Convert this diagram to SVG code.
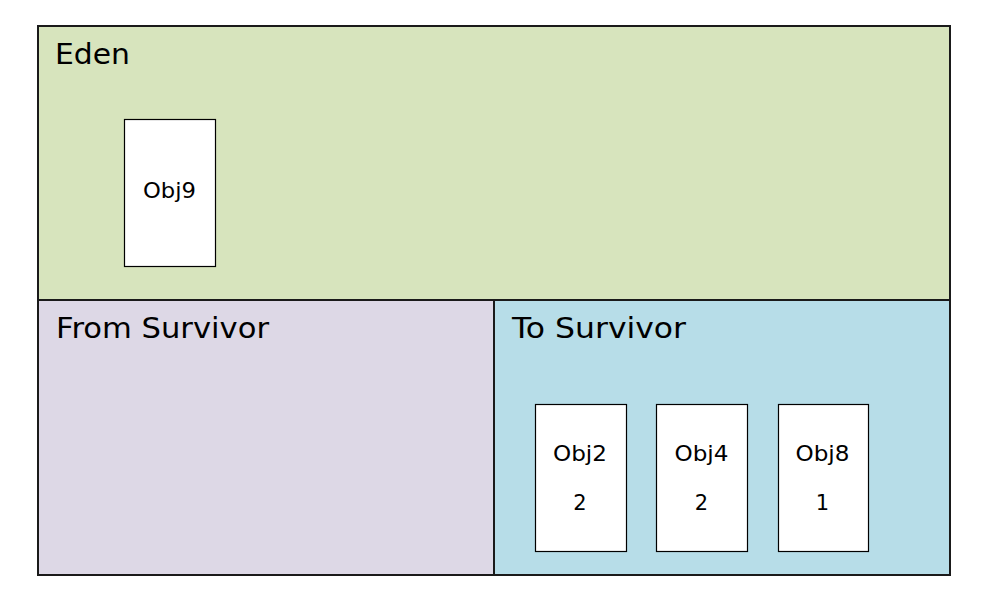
<svg xmlns="http://www.w3.org/2000/svg" width="981" height="589" viewBox="0 0 981 589">
<style>
.region{stroke:#1a1a1a;stroke-width:2}
.obj{fill:#ffffff;stroke:#000000;stroke-width:1.2}
.title{font-family:"DejaVu Sans","Noto Sans",sans-serif;font-size:28px;fill:#000}
.lbl{font-family:"DejaVu Sans","Noto Sans",sans-serif;font-size:21px;fill:#000;text-anchor:middle}
</style>
<rect width="981" height="589" fill="#ffffff"/>
<g id="eden">
<rect class="region" x="38" y="26" width="912" height="274" fill="#D7E4BD"/>
<text class="title" x="55" y="64" textLength="75" lengthAdjust="spacingAndGlyphs">Eden</text>
</g>
<g id="from-survivor">
<rect class="region" x="38" y="300" width="456" height="275" fill="#DDD8E6"/>
<text class="title" x="56" y="338" textLength="213" lengthAdjust="spacingAndGlyphs">From Survivor</text>
</g>
<g id="to-survivor">
<rect class="region" x="494" y="300" width="456" height="275" fill="#B7DDE8"/>
<text class="title" x="512" y="338" textLength="174" lengthAdjust="spacingAndGlyphs">To Survivor</text>
</g>
<g id="obj9">
<rect class="obj" x="124.5" y="119.5" width="91" height="147"/>
<text class="lbl" x="169.5" y="198" textLength="53" lengthAdjust="spacingAndGlyphs">Obj9</text>
</g>
<g id="obj2">
<rect class="obj" x="535.5" y="404.5" width="91" height="147"/>
<text class="lbl" x="580" y="461" textLength="54" lengthAdjust="spacingAndGlyphs">Obj2</text>
<text class="lbl" x="580" y="510">2</text>
</g>
<g id="obj4">
<rect class="obj" x="656.5" y="404.5" width="91" height="147"/>
<text class="lbl" x="701.5" y="461" textLength="54" lengthAdjust="spacingAndGlyphs">Obj4</text>
<text class="lbl" x="701.5" y="510">2</text>
</g>
<g id="obj8">
<rect class="obj" x="778.5" y="404.5" width="90" height="147"/>
<text class="lbl" x="822.5" y="461" textLength="54" lengthAdjust="spacingAndGlyphs">Obj8</text>
<text class="lbl" x="822.5" y="510">1</text>
</g>
<g id="connectors"/>
</svg>
